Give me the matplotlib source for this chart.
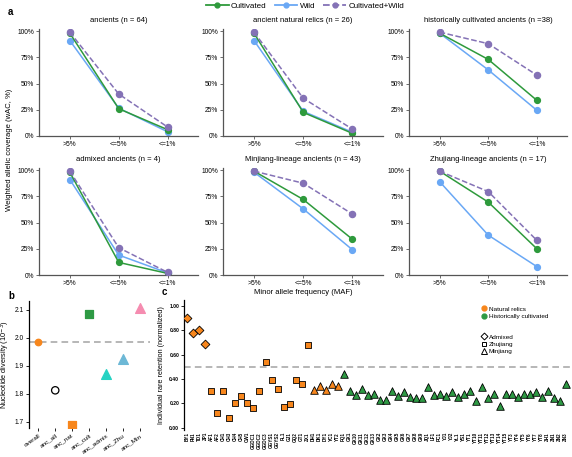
import numpy as np
import matplotlib
matplotlib.use('Agg')
import matplotlib.pyplot as plt
from matplotlib.lines import Line2D

plt.rcParams['font.family'] = ['Liberation Sans', 'DejaVu Sans']

W, H = 572, 457

# Panel a data
mafCats = ['>5%', '<=5%', '<=1%']
titulos = ['ancients (n = 64)', 'ancient natural relics (n = 26)',
           'historically cultivated ancients (n =38)', 'admixed ancients (n = 4)',
           'Minjiang-lineage ancients (n = 43)', 'Zhujiang-lineage ancients (n = 17)']
cultivated = [[98, 26, 6], [98, 22.5, 2.5], [98, 73, 34],
              [98, 12, 1.5], [99, 72, 34], [99, 69.5, 25]]
wild = [[91, 26.5, 4], [91, 23.5, 3.5], [98, 63, 24.5],
        [91, 19, 2], [98, 63, 24], [89, 38, 8]]
cultWild = [[99, 40, 8.5], [99, 36, 6.5], [99, 88, 58],
            [99, 26, 2.5], [99, 87.5, 58], [99, 79.5, 33]]

# Panel b data
grupos = ['overall', 'anc_all', 'anc_nat', 'anc_cult', 'anc_admix', 'anc_Zhu', 'anc_Min']
diversidad = [1.985, 1.812, 1.686, 2.087, 1.872, 1.923, 2.107]
divMarcas = ['o', 'o', 's', 's', '^', '^', '^']
divColores = ['#F7861C', 'none', '#F7861C', '#2E9A44', '#26D3C3', '#6DB8D6', '#F58CB0']
divBordes = ['#F7861C', 'black', '#F7861C', '#2E9A44', '#26D3C3', '#6DB8D6', '#F58CB0']
divTam = [22, 28, 30, 36, 50, 50, 50]
divOverall = 1.985

# Panel c data
individuos = ['BY1', 'FN1', 'TD1', 'ZP1',
              'AF1', 'AF2', 'CH1', 'CH3', 'CH4', 'CH5', 'CW1', 'GGDC1', 'GGDC2', 'GGDC3',
              'GGYS1', 'GGYS2', 'PL1', 'GJ1', 'GQ2', 'GT1', 'ZX1',
              'DH1', 'DK1', 'DY1', 'YC1', 'YT2',
              'FQ1', 'GX1', 'GX10', 'GX11', 'GX12', 'GX13', 'GX2', 'GX3', 'GX4', 'GX5',
              'GX6', 'GX7', 'GX8', 'GX9', 'JQ1', 'LF1', 'PC1', 'YJ1', 'YJ2', 'YL1', 'YS1',
              'YT1', 'YT10', 'YT11', 'YT12', 'YT13', 'YT14', 'YT15', 'YT3', 'YT4', 'YT5',
              'YT6', 'YT7', 'YT8', 'ZH1', 'ZN1', 'ZN2', 'ZN3']
retencion = [0.90, 0.78, 0.80, 0.69,
             0.30, 0.12, 0.30, 0.08, 0.20, 0.26, 0.20, 0.16, 0.30, 0.54,
             0.39, 0.32, 0.17, 0.19, 0.39, 0.36, 0.68,
             0.31, 0.34, 0.31, 0.36, 0.34,
             0.44, 0.30, 0.27, 0.32, 0.27, 0.28, 0.23, 0.23, 0.30, 0.26,
             0.29, 0.25, 0.24, 0.24, 0.33, 0.27, 0.28, 0.26, 0.29, 0.25, 0.28,
             0.30, 0.22, 0.33, 0.24, 0.28, 0.18, 0.28, 0.28, 0.25, 0.28,
             0.28, 0.29, 0.25, 0.30, 0.24, 0.22, 0.36]
linaje = ['Admixed'] * 4 + ['Zhujiang'] * 17 + ['Minjiang'] * 43
estado = ['Natural relics'] * 26 + ['Historically cultivated'] * 38

colCult = '#2E9A3C'
colWild = '#6AA8F5'
colCW = '#8472B6'
colNat = '#F7861C'
colHist = '#2E9A44'
gris = '#555555'


def ejes(l, t, r, b):
    return fig.add_axes([l / W, 1 - b / H, (r - l) / W, (b - t) / H])


fig = plt.figure(figsize=(W / 100, H / 100), dpi=100)

# ---- Panel a
posiciones = [(39, 29, 198, 136), (223, 29, 383, 136), (409, 29, 567, 136),
              (39, 168, 198, 275), (223, 168, 383, 275), (409, 168, 567, 275)]
x = np.arange(len(mafCats))
for i, pos in enumerate(posiciones):
    ax = ejes(*pos)
    ax.plot(x, cultWild[i], '--', color=colCW, lw=1.1, marker='o', ms=4.4, zorder=3)
    ax.plot(x, wild[i], '-', color=colWild, lw=1.1, marker='o', ms=4.2, zorder=2)
    ax.plot(x, cultivated[i], '-', color=colCult, lw=1.1, marker='o', ms=4.2, zorder=2)
    ax.set_xlim(-0.63, 2.62)
    ax.set_ylim(0, 102)
    ax.set_xticks(x)
    ax.set_xticklabels(mafCats, fontsize=4.8)
    ax.set_yticks([0, 25, 50, 75, 100])
    ax.set_yticklabels(['0%', '25%', '50%', '75%', '100%'], fontsize=4.8)
    ax.set_title(titulos[i], fontsize=5.5, pad=5)
    for s in ['top', 'right']:
        ax.spines[s].set_visible(False)
    for s in ['left', 'bottom']:
        ax.spines[s].set_color(gris)
        ax.spines[s].set_linewidth(0.9)
    ax.tick_params(length=2, width=0.6, pad=1.5, color=gris)

fig.text(8 / W, 1 - 12 / H, 'a', fontsize=7, fontweight='bold', va='center')
fig.text(10 / W, 1 - 150 / H, 'Weighted allelic coverage (wAC, %)', rotation=90,
         fontsize=5.5, va='center', ha='center')
fig.text(303 / W, 1 - 293 / H, 'Minor allele frequency (MAF)', fontsize=5.5,
         va='center', ha='center')

handles = [Line2D([], [], color=colCult, lw=1.3, marker='o', ms=3.5),
           Line2D([], [], color=colWild, lw=1.3, marker='o', ms=3.5),
           Line2D([], [], color=colCW, lw=1.3, ls='--', marker='o', ms=3.5)]
fig.legend(handles, ['Cultivated', 'Wild', 'Cultivated+Wild'], loc='center',
           bbox_to_anchor=(305 / W, 1 - 6 / H), ncol=3, frameon=False, fontsize=5.8,
           handlelength=2.8, columnspacing=1.0, handletextpad=0.3, borderpad=0)

# ---- Panel b
axb = ejes(29, 301, 150, 428)
for k in range(len(grupos)):
    axb.scatter(k, diversidad[k], marker=divMarcas[k], s=divTam[k],
                facecolors=divColores[k], edgecolors=divBordes[k], linewidths=0.9, zorder=3)
axb.axhline(divOverall, color='#AAAAAA', ls='--', lw=1.2, dashes=(4, 2.5), zorder=1)
axb.set_xlim(-0.55, 6.6)
axb.set_ylim(1.677, 2.132)
axb.set_yticks([1.7, 1.8, 1.9, 2.0, 2.1])
axb.set_yticklabels(['1.7', '1.8', '1.9', '2.0', '2.1'], fontsize=4.8)
axb.set_xticks(range(len(grupos)))
axb.set_xticklabels(grupos, rotation=35, ha='right', rotation_mode='anchor', fontsize=4.6)
axb.set_ylabel('Nucleotide diversity (10$^{-3}$)', fontsize=5.3)
axb.yaxis.set_label_coords(-0.14, 0.5)
for s in ['top', 'right', 'bottom']:
    axb.spines[s].set_visible(False)
axb.spines['left'].set_linewidth(0.9)
axb.tick_params(length=2, width=0.6, pad=1.5)
fig.text(8 / W, 1 - 296 / H, 'b', fontsize=7, fontweight='bold', va='center')

# ---- Panel c
axc = ejes(184, 300, 570, 430)
marcaLinaje = {'Admixed': 'D', 'Zhujiang': 's', 'Minjiang': '^'}
tamLinaje = {'Admixed': 20, 'Zhujiang': 22, 'Minjiang': 30}
colorEstado = {'Natural relics': colNat, 'Historically cultivated': colHist}
for k in range(len(individuos)):
    axc.scatter(k, retencion[k], marker=marcaLinaje[linaje[k]], s=tamLinaje[linaje[k]],
                facecolors=colorEstado[estado[k]], edgecolors='black', linewidths=0.6, zorder=3)
axc.axhline(0.5, color='#AAAAAA', ls='--', lw=1.2, dashes=(4, 2.5), zorder=1)
axc.set_xlim(-0.57, 63.7)
axc.set_ylim(-0.02, 1.05)
axc.set_yticks([0, 0.2, 0.4, 0.6, 0.8, 1.0])
axc.set_yticklabels(['0.00', '0.20', '0.40', '0.60', '0.80', '1.00'], fontsize=3.6,
                    fontweight='bold')
axc.set_xticks(range(len(individuos)))
axc.set_xticklabels(individuos, rotation=90, fontsize=3.3, fontweight='bold')
axc.set_ylabel('Individual rare retention (normalized)', fontsize=5.2)
axc.yaxis.set_label_coords(-0.05, 0.5)
for s in ['top', 'right', 'bottom']:
    axc.spines[s].set_visible(False)
axc.spines['left'].set_linewidth(0.9)
axc.tick_params(axis='y', length=2, width=0.6, pad=1.5)
axc.tick_params(axis='x', length=0, pad=1.5)
fig.text(162 / W, 1 - 292 / H, 'c', fontsize=7, fontweight='bold', va='center')

# legend for panel c
legC = [Line2D([], [], ls='', marker='o', ms=3.5, color=colNat),
        Line2D([], [], ls='', marker='o', ms=3.5, color=colHist)]
l1 = axc.legend(legC, ['Natural relics', 'Historically cultivated'], loc='upper left',
                bbox_to_anchor=((478 - 184) / 386, (430 - 303) / 130), frameon=False,
                fontsize=4.6, handletextpad=0.2, labelspacing=0.3, borderpad=0,
                handlelength=1)
axc.add_artist(l1)
legM = [Line2D([], [], ls='', marker='D', ms=3.5, mfc='none', mec='black', mew=0.7),
        Line2D([], [], ls='', marker='s', ms=3.5, mfc='none', mec='black', mew=0.7),
        Line2D([], [], ls='', marker='^', ms=4, mfc='none', mec='black', mew=0.7)]
axc.legend(legM, ['Admixed', 'Zhujiang', 'Minjiang'], loc='upper left',
           bbox_to_anchor=((478 - 184) / 386, (430 - 331) / 130), frameon=False,
           fontsize=4.6, handletextpad=0.2, labelspacing=0.3, borderpad=0, handlelength=1)

fig.savefig('out.png', dpi=100)
